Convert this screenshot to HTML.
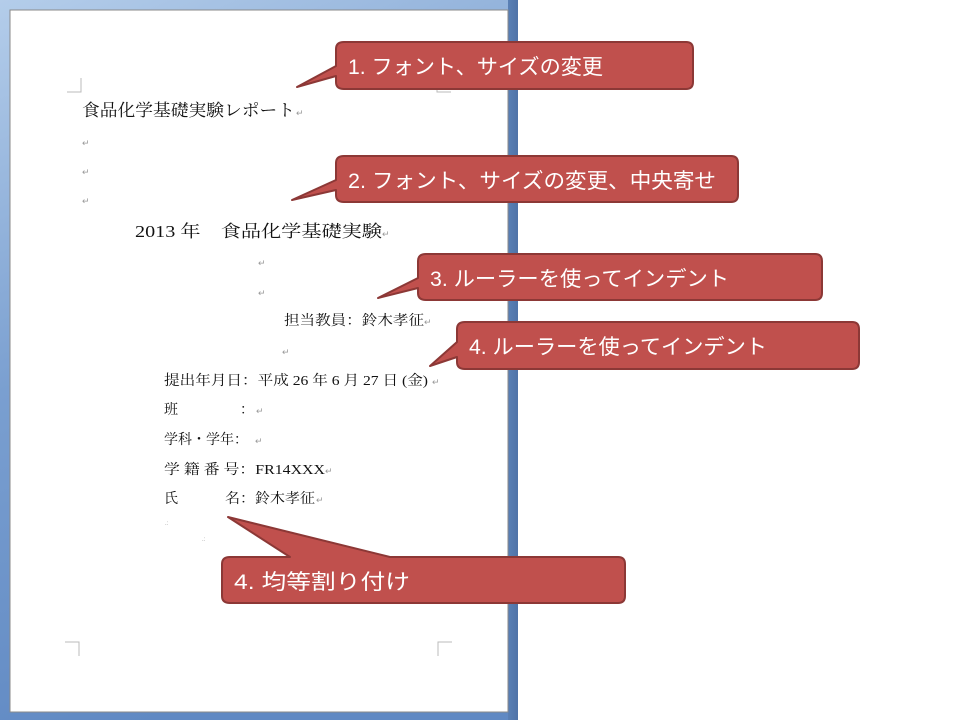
<!DOCTYPE html>
<html><head><meta charset="utf-8"><style>
html,body{margin:0;padding:0;background:#fff;}
svg{display:block}
.doc{font-family:"Liberation Serif","Noto Serif CJK SC","Noto Sans CJK JP",serif;fill:#111;}
.m{font-family:"Liberation Sans",sans-serif;fill:#999;font-size:9px;}
.c{font-family:"Liberation Sans","Noto Sans CJK JP",sans-serif;fill:#fff;font-size:21px;}
</style></head><body>
<svg width="960" height="720" viewBox="0 0 960 720" xmlns="http://www.w3.org/2000/svg">
<defs>
<linearGradient id="bg" x1="0" y1="0" x2="0.3" y2="1">
<stop offset="0" stop-color="#b4cdea"/><stop offset="0.5" stop-color="#7a9fd0"/><stop offset="1" stop-color="#6089c3"/>
</linearGradient>
<linearGradient id="rb" x1="0" y1="0" x2="1" y2="0">
<stop offset="0" stop-color="#5a80b5"/><stop offset="1" stop-color="#4f73a8"/>
</linearGradient>
</defs>
<rect x="0" y="0" width="518" height="720" fill="url(#bg)"/>
<rect x="508" y="0" width="10" height="720" fill="url(#rb)"/>
<rect x="10" y="10" width="498" height="702" fill="#fff" stroke="#8a8a8a" stroke-width="1"/>
<g stroke="#bbb" fill="none" stroke-width="1">
<path d="M67 92 H81 V78"/><path d="M437 78 V92 H451"/>
<path d="M65 642 H79 V656"/><path d="M452 642 H438 V656"/>
</g>
<g class="doc" lengthAdjust="spacingAndGlyphs">
<text x="82" y="116" font-size="17" textLength="213" lengthAdjust="spacingAndGlyphs">食品化学基礎実験レポート</text>
<text x="135" y="237" font-size="17" textLength="247" lengthAdjust="spacingAndGlyphs">2013 年　食品化学基礎実験</text>
<text x="284" y="325" font-size="14" textLength="140" lengthAdjust="spacingAndGlyphs">担当教員：鈴木孝征</text>
<text x="164" y="385" font-size="14" textLength="264" lengthAdjust="spacingAndGlyphs">提出年月日：平成 26 年 6 月 27 日 (金)</text>
<text x="164" y="414" font-size="14">班</text><text x="240" y="414" font-size="14">：</text>
<text x="164" y="444" font-size="14" textLength="84" lengthAdjust="spacingAndGlyphs">学科・学年：</text>
<text x="164" y="474" font-size="14" textLength="161" lengthAdjust="spacingAndGlyphs">学 籍 番 号：FR14XXX</text>
<text x="164" y="503" font-size="14">氏</text><text x="225" y="503" font-size="14" textLength="90" lengthAdjust="spacingAndGlyphs">名：鈴木孝征</text>
</g>
<g class="m">
<text x="296" y="116">↵</text><text x="82" y="146">↵</text><text x="82" y="175">↵</text><text x="82" y="204">↵</text>
<text x="382" y="237">↵</text><text x="258" y="266">↵</text><text x="258" y="296">↵</text>
<text x="424" y="325">↵</text><text x="282" y="355">↵</text><text x="432" y="385">↵</text>
<text x="256" y="414">↵</text><text x="255" y="444">↵</text><text x="325" y="474">↵</text><text x="316" y="503">↵</text>
<text x="165" y="525" font-size="6">.:</text><text x="202" y="541" font-size="6">.:</text>
</g>
<g fill="#c0504d" stroke="#8c3836" stroke-width="2" stroke-linejoin="round">
<path d="M344 42 H686 Q693 42 693 49 V82 Q693 89 686 89 H344 Q336 89 336 82 V76 L297 87 L336 66 V49 Q336 42 344 42 Z"/>
<path d="M344 156 H731 Q738 156 738 163 V195 Q738 202 731 202 H344 Q336 202 336 195 V190 L292 200 L336 180 V163 Q336 156 344 156 Z"/>
<path d="M426 254 H815 Q822 254 822 261 V293 Q822 300 815 300 H426 Q418 300 418 293 V288 L378 298 L418 278 V261 Q418 254 426 254 Z"/>
<path d="M465 322 H852 Q859 322 859 329 V362 Q859 369 852 369 H465 Q457 369 457 362 V357 L430 366 L457 342 V329 Q457 322 465 322 Z"/>
<path d="M230 557 H290 L228 517 L390 557 H618 Q625 557 625 564 V596 Q625 603 618 603 H230 Q222 603 222 596 V564 Q222 557 230 557 Z"/>
</g>
<g class="c">
<text x="348" y="74" textLength="255" lengthAdjust="spacingAndGlyphs">1. フォント、サイズの変更</text>
<text x="348" y="188" textLength="368" lengthAdjust="spacingAndGlyphs">2. フォント、サイズの変更、中央寄せ</text>
<text x="430" y="286" textLength="299" lengthAdjust="spacingAndGlyphs">3. ルーラーを使ってインデント</text>
<text x="469" y="354" textLength="298" lengthAdjust="spacingAndGlyphs">4. ルーラーを使ってインデント</text>
<text x="234" y="589" textLength="176" lengthAdjust="spacingAndGlyphs">4. 均等割り付け</text>
</g>
</svg>
</body></html>
